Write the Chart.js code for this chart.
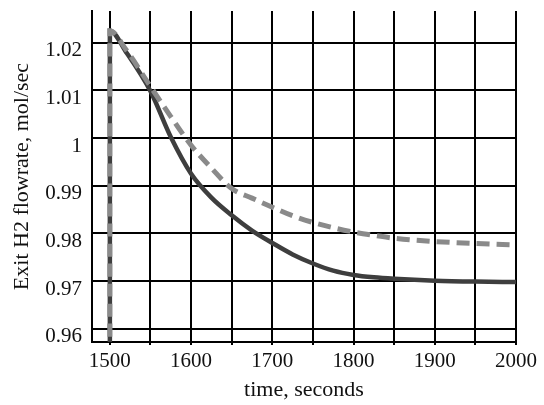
<!DOCTYPE html>
<html>
<head>
<meta charset="utf-8">
<script src="https://cdn.jsdelivr.net/npm/chart.js@4"></script>
<style>
  body { margin: 0; background: #fff; }
  #wrap { width: 544px; height: 405px; }
</style>
</head>
<body>
<div id="wrap"><canvas id="flowChart" width="544" height="405"></canvas></div>
<script>
// ------------------- DATA -------------------
// time in seconds; first point sits below the axis so the step at t=1500 is drawn
const timeSec    = [1500, 1500, 1520, 1550, 1575, 1600, 1625, 1650, 1675, 1700, 1725, 1750, 1775, 1800, 1825, 1850, 1900, 1950, 2000];
// dark solid curve
const flowSolid  = [0.95, 1.0225, 1.0180, 1.0098, 1.0002, 0.9925, 0.9875, 0.9838, 0.9806, 0.9780, 0.9756, 0.9737, 0.9722, 0.9713, 0.9708, 0.9705, 0.9701, 0.9699, 0.9698];
// grey dashed curve
const flowDashed = [0.95, 1.0225, 1.0185, 1.0108, 1.0045, 0.9985, 0.9937, 0.9894, 0.9874, 0.9855, 0.9837, 0.9823, 0.9812, 0.9803, 0.9796, 0.9790, 0.9783, 0.9779, 0.9776];

const xTickLabels = [1500, 1600, 1700, 1800, 1900, 2000];
const yTickLabels = [0.96, 0.97, 0.98, 0.99, 1, 1.01, 1.02];

const xAxisTitle = "time, seconds";
const yAxisTitle = "Exit H2 flowrate, mol/sec";

function toPoints(xs, ys) {
    return xs.map((x, i) => ({ x: x, y: ys[i] }));
}

function matchLabel(list, v) {
    const hit = list.find(l => Math.abs(l - v) < 1e-6);
    return hit === undefined ? "" : String(hit);
}

const serif = "'Liberation Serif', 'Times New Roman', serif";

// ------------------- CHART -------------------
new Chart(document.getElementById("flowChart"), {
    type: "line",
    data: {
        datasets: [
            {
                label: "dashed",
                data: toPoints(timeSec, flowDashed),
                borderColor: "#8a8a8a",
                borderWidth: 5,
                borderDash: [13, 7],
                pointRadius: 0,
                cubicInterpolationMode: "monotone",
                fill: false
            },
            {
                label: "solid",
                data: toPoints(timeSec, flowSolid),
                borderColor: "#3e3e3e",
                borderWidth: 4.5,
                pointRadius: 0,
                cubicInterpolationMode: "monotone",
                fill: false
            }
        ]
    },
    options: {
        responsive: false,
        animation: false,
        layout: { padding: { left: 0, right: 28, top: 11, bottom: 0 } },
        plugins: {
            legend: { display: false },
            tooltip: { enabled: false }
        },
        scales: {
            x: {
                type: "linear",
                min: 1478,
                max: 2000,
                afterFit: s => { s.height = 63; s.paddingLeft = 0; s.paddingRight = 0; },
                grid: { color: "#000", lineWidth: 2, drawTicks: true, tickLength: 3 },
                border: { display: true, color: "#000", width: 2 },
                ticks: {
                    stepSize: 50,
                    includeBounds: false,
                    autoSkip: false,
                    maxRotation: 0,
                    minRotation: 0,
                    padding: 4,
                    color: "#111",
                    font: { family: serif, size: 21 },
                    callback: v => matchLabel(xTickLabels, v)
                },
                title: {
                    display: true,
                    text: xAxisTitle,
                    color: "#111",
                    font: { family: serif, size: 22 },
                    padding: { top: 0, bottom: 2 }
                }
            },
            y: {
                type: "linear",
                min: 0.95724,
                max: 1.02663,
                afterFit: s => { s.width = 92; s.paddingTop = 0; s.paddingBottom = 0; },
                grid: { color: "#000", lineWidth: 2, drawTicks: false },
                border: { display: true, color: "#000", width: 2 },
                ticks: {
                    stepSize: 0.01,
                    includeBounds: false,
                    autoSkip: false,
                    padding: 10,
                    labelOffset: 8,
                    color: "#111",
                    font: { family: serif, size: 21 },
                    callback: v => matchLabel(yTickLabels, Math.round(v * 100) / 100)
                },
                title: {
                    display: true,
                    text: yAxisTitle,
                    color: "#111",
                    font: { family: serif, size: 22 },
                    padding: { top: 9, bottom: 0 }
                }
            }
        }
    }
});
</script>
</body>
</html>
